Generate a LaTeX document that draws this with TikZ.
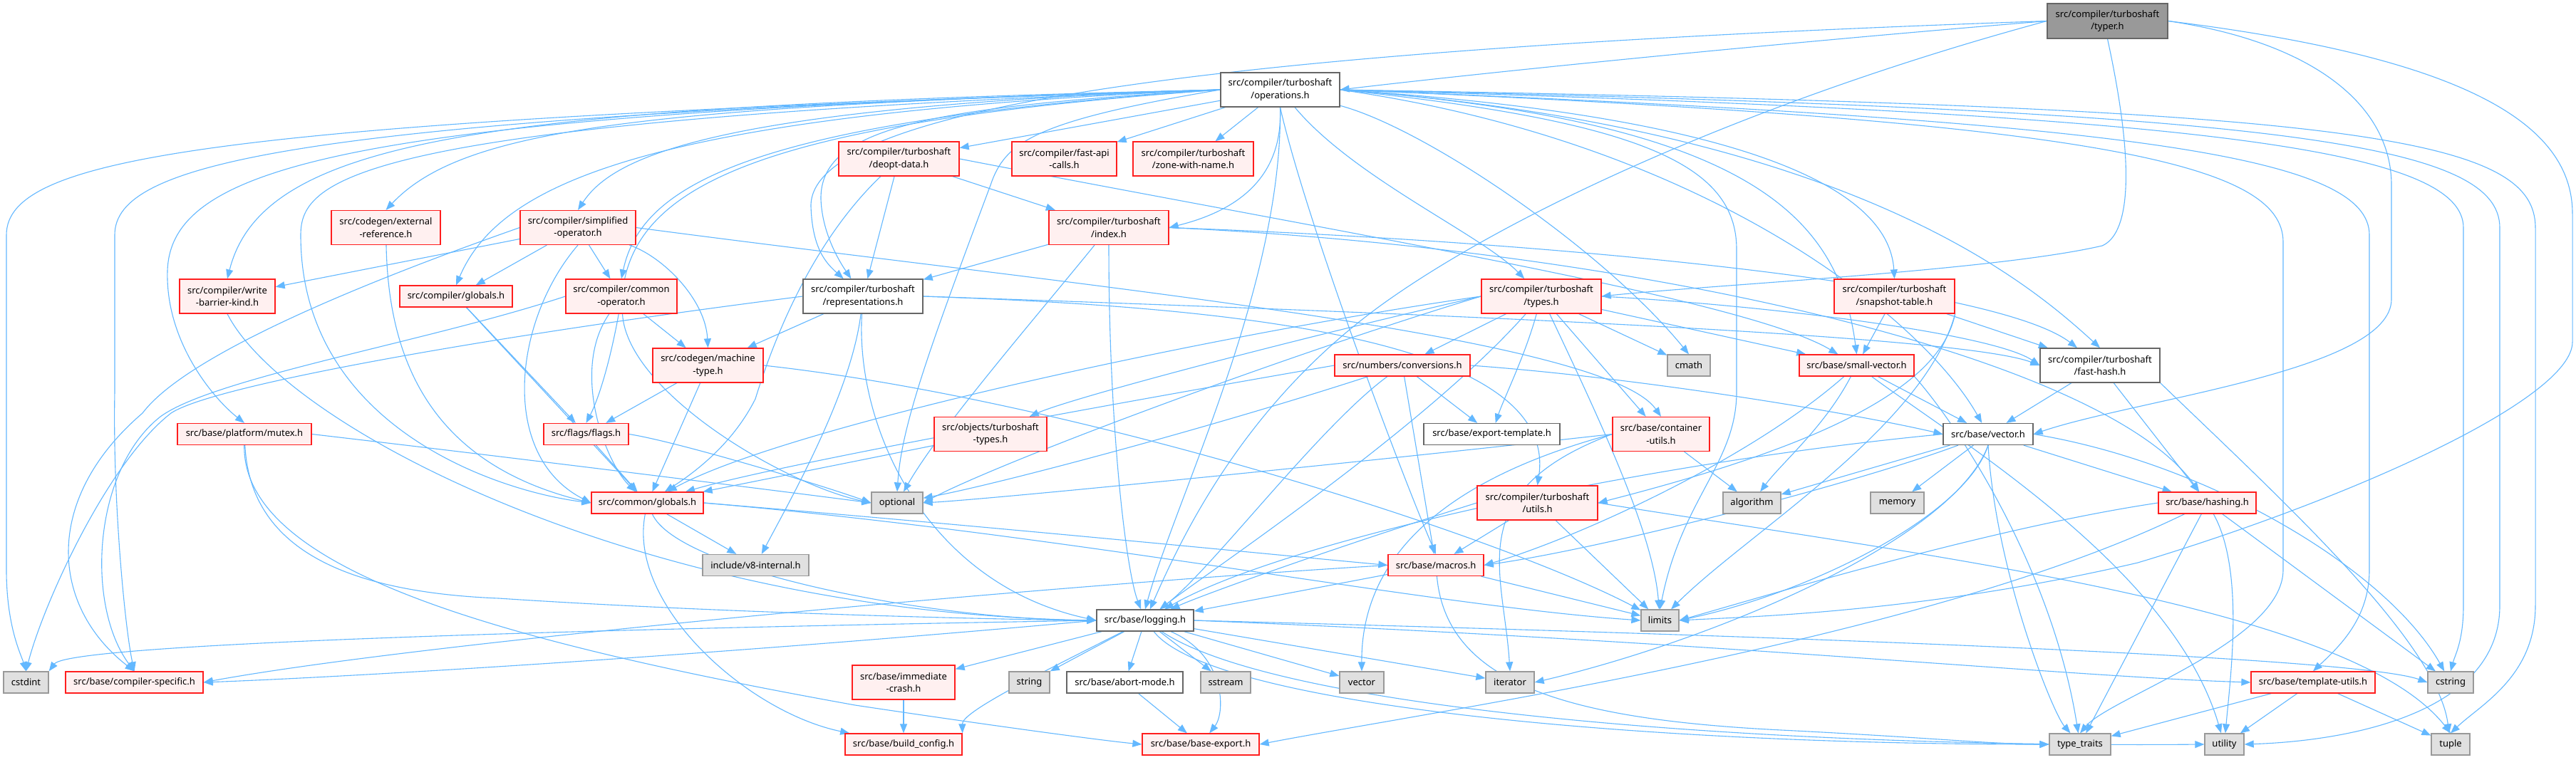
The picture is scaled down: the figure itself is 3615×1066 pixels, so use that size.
\documentclass[tikz,border=0pt]{standalone}
\usepackage{fontspec}
\setmainfont{Noto Sans}
\usetikzlibrary{arrows.meta,backgrounds}
\definecolor{edgec}{RGB}{99,184,255}
\definecolor{redfill}{RGB}{255,240,240}
\definecolor{redline}{RGB}{255,30,30}
\definecolor{grayfill}{RGB}{224,224,224}
\definecolor{grayline}{RGB}{153,153,153}
\definecolor{darkline}{RGB}{102,102,102}
\definecolor{rootfill}{RGB}{153,153,153}
\begin{document}
\begin{tikzpicture}[x=1pt,y=-1pt,
 box/.style={rectangle, inner sep=0pt, align=center, font=\fontsize{13}{17.5}\selectfont, text=black, line width=1.3pt},
 wbox/.style={box, draw=darkline, fill=white},
 rbox/.style={box, draw=redline, fill=redfill},
 gbox/.style={box, draw=grayline, fill=grayfill},
 rootbox/.style={box, draw=darkline, fill=rootfill},
 wh/.style 2 args={minimum width=#1pt, minimum height=#2pt},
 e/.style={draw=edgec, line width=1.1pt, -{Triangle[length=13pt,width=10pt]}},
]
\useasboundingbox (0,0) rectangle (3615,1066);
% nodes
\node[rootbox, wh={169}{49}] (typer) at (2957.5,29.5) {src/compiler/turboshaft\\/typer.h};
\node[wbox, wh={167}{48}] (ops) at (1796.5,126) {src/compiler/turboshaft\\/operations.h};
\node[rbox, wh={169}{48}] (deopt) at (1261.5,223) {src/compiler/turboshaft\\/deopt-data.h};
\node[rbox, wh={147}{48}] (fastapi) at (1493.5,223) {src/compiler/fast-api\\-calls.h};
\node[rbox, wh={169}{48}] (zone) at (1674.5,223) {src/compiler/turboshaft\\/zone-with-name.h};
\node[rbox, wh={168}{48}] (index) at (1556,319.5) {src/compiler/turboshaft\\/index.h};
\node[wbox, wh={168}{48}] (repr) at (1211,416) {src/compiler/turboshaft\\/representations.h};
\node[rbox, wh={153}{48}] (extref) at (541.5,319.5) {src/codegen/external\\-reference.h};
\node[rbox, wh={162}{48}] (simpl) at (811,319.5) {src/compiler/simplified\\-operator.h};
\node[rbox, wh={134}{48}] (wbk) at (319,416) {src/compiler/write\\-barrier-kind.h};
\node[rbox, wh={158}{30}] (cglob) at (640,416) {src/compiler/globals.h};
\node[rbox, wh={156}{48}] (commonop) at (872,416) {src/compiler/common\\-operator.h};
\node[rbox, wh={155}{48}] (machtype) at (993.5,513) {src/codegen/machine\\-type.h};
\node[rbox, wh={168}{48}] (types) at (2163,416) {src/compiler/turboshaft\\/types.h};
\node[rbox, wh={169}{48}] (snap) at (2658.5,416) {src/compiler/turboshaft\\/snapshot-table.h};
\node[rbox, wh={190}{30}] (conv) at (1968,513) {src/numbers/conversions.h};
\node[gbox, wh={60}{30}] (cmath) at (2370,513) {cmath};
\node[rbox, wh={161}{30}] (smallvec) at (2605.5,513) {src/base/small-vector.h};
\node[wbox, wh={168}{48}] (fasthash) at (2947,513) {src/compiler/turboshaft\\/fast-hash.h};
\node[rbox, wh={188}{30}] (mutex) at (343,609.5) {src/base/platform/mutex.h};
\node[rbox, wh={119}{30}] (flags) at (822.5,609.5) {src/flags/flags.h};
\node[rbox, wh={157}{30}] (glob) at (908.5,706) {src/common/globals.h};
\node[gbox, wh={63}{30}] (cstdint) at (36.5,958) {cstdint};
\node[rbox, wh={193}{30}] (compspec) at (188.5,958) {src/base/compiler-specific.h};
\node[rbox, wh={158}{48}] (objtypes) at (1390,609.5) {src/objects/turboshaft\\-types.h};
\node[gbox, wh={72}{30}] (optional) at (1259,706) {optional};
\node[gbox, wh={149}{30}] (v8int) at (1060.5,793.5) {include/v8-internal.h};
\node[wbox, wh={136}{30}] (logging) at (1607,871) {src/base/logging.h};
\node[rbox, wh={144}{48}] (immcrash) at (1268,958) {src/base/immediate\\-crash.h};
\node[gbox, wh={57}{30}] (string) at (1444.5,958) {string};
\node[wbox, wh={163}{30}] (abort) at (1578.5,958) {src/base/abort-mode.h};
\node[gbox, wh={70}{30}] (sstream) at (1720,958) {sstream};
\node[rbox, wh={164}{30}] (buildcfg) at (1268,1045) {src/base/build\_config.h};
\node[rbox, wh={164}{30}] (baseexp) at (1685,1045) {src/base/base-export.h};
\node[wbox, wh={191}{30}] (exporttpl) at (2093.5,609.5) {src/base/export-template.h};
\node[rbox, wh={136}{48}] (contutils) at (2331,609.5) {src/base/container\\-utils.h};
\node[rbox, wh={169}{48}] (tsutils) at (2157.5,706) {src/compiler/turboshaft\\/utils.h};
\node[gbox, wh={81}{30}] (algorithm) at (2458.5,706) {algorithm};
\node[gbox, wh={75}{30}] (memory) at (2662.5,706) {memory};
\node[rbox, wh={134}{30}] (macros) at (2015,793.5) {src/base/macros.h};
\node[gbox, wh={53}{30}] (limits) at (2329.5,871) {limits};
\node[gbox, wh={62}{30}] (vector) at (1911,958) {vector};
\node[gbox, wh={68}{30}] (iterator) at (2119,958) {iterator};
\node[wbox, wh={126}{30}] (vectorh) at (2790,609.5) {src/base/vector.h};
\node[rbox, wh={137}{30}] (hashing) at (3097.5,706) {src/base/hashing.h};
\node[rbox, wh={174}{30}] (tmplutils) at (3246,958) {src/base/template-utils.h};
\node[gbox, wh={64}{30}] (cstring) at (3439,958) {cstring};
\node[gbox, wh={86}{30}] (typetraits) at (2919,1045) {type\_traits};
\node[gbox, wh={55}{30}] (utility) at (3121.5,1045) {utility};
\node[gbox, wh={54}{30}] (tuple) at (3439,1045) {tuple};
\begin{scope}[on background layer]
\fill[white] (0,0) rectangle (3615,1066);
% typer
\draw[e] (typer.west) .. controls (2500,60) and (2100,100) .. (ops.east);
\draw[e] (typer.west) .. controls (1700,70) and (1135,150) .. (1138,290) .. controls (1140,350) and (1160,370) .. (repr);
\draw[e] (typer.south) .. controls (3000,250) and (2985,330) .. (2950,345) .. controls (2800,380) and (2400,400) .. (types.east);
\draw[e] (typer.west) .. controls (2500,130) and (2150,280) .. (1950,420) .. controls (1750,560) and (1660,750) .. (logging);
\draw[e] (typer.east) .. controls (3250,60) and (3356,150) .. (3356,260) -- (3356,420) .. controls (3356,520) and (3000,560) .. (vectorh.east);
\draw[e] (typer.east) .. controls (3450,80) and (3610,170) .. (3610,300) -- (3610,480) .. controls (3610,560) and (3300,700) .. (3000,790) .. controls (2700,860) and (2450,866) .. (limits.east);
% operations
\draw[e] (ops) -- (deopt);
\draw[e] (ops) -- (fastapi);
\draw[e] (ops) -- (zone);
\draw[e] (ops.south) .. controls (1800,230) and (1760,290) .. (index.east);
\draw[e] (ops.west) .. controls (1300,150) and (1150,180) .. (1152,280) .. controls (1154,330) and (1180,370) .. (repr);
\draw[e] (ops.west) .. controls (900,150) and (650,180) .. (extref.north);
\draw[e] (ops.west) .. controls (1000,150) and (860,220) .. (simpl.north);
\draw[e] (ops.west) .. controls (700,150) and (370,190) .. (wbk.north);
\draw[e] (ops.west) .. controls (900,160) and (700,260) .. (cglob.north);
\draw[e] (ops.west) .. controls (1050,170) and (900,260) .. (commonop.north);
\draw[e] (ops) .. controls (1900,250) and (2080,330) .. (types);
\draw[e] (ops.east) .. controls (2400,160) and (2650,250) .. (snap.north);
\draw[e] (ops) .. controls (2000,180) and (2250,350) .. (cmath.north);
\draw[e] (ops.east) .. controls (2450,170) and (2580,300) .. (smallvec.north);
\draw[e] (ops.east) .. controls (2600,180) and (2850,400) .. (fasthash.north);
\draw[e] (ops.west) .. controls (500,160) and (240,230) .. (235,380) .. controls (232,480) and (300,560) .. (mutex.north);
\draw[e] (ops.west) .. controls (1100,170) and (900,250) .. (875,400) .. controls (860,500) and (840,560) .. (flags.north);
\draw[e] (ops.west) .. controls (500,170) and (422,250) .. (422,330) .. controls (422,600) and (700,690) .. (glob.west);
\draw[e] (ops.west) .. controls (300,170) and (9,220) .. (9,330) -- (9,800) .. controls (9,880) and (30,920) .. (cstdint.north);
\draw[e] (ops.west) .. controls (400,165) and (161,230) .. (161,330) -- (161,550) .. controls (158,700) and (175,880) .. (compspec.north);
\draw[e] (ops.west) .. controls (1450,170) and (1410,200) .. (1390,260) .. controls (1300,500) and (1265,600) .. (optional.north);
\draw[e] (ops.south) .. controls (1800,400) and (1650,700) .. (logging.north);
\draw[e] (ops.south) .. controls (1830,300) and (1960,650) .. (macros.north);
\draw[e] (ops.east) .. controls (2300,170) and (2437,230) .. (2437,350) -- (2437,550) .. controls (2437,650) and (2360,700) .. (limits.north);
\draw[e] (ops.east) .. controls (2400,200) and (2700,450) .. (vectorh);
\draw[e] (ops.east) .. controls (2950,170) and (3204,230) .. (3204,340) -- (3204,800) .. controls (3204,900) and (2960,980) .. (typetraits.north);
\draw[e] (ops.east) .. controls (3000,170) and (3325,220) .. (3325,330) -- (3325,800) .. controls (3325,870) and (3280,910) .. (tmplutils.north);
\draw[e] (ops.east) .. controls (3100,160) and (3457,210) .. (3457,320) -- (3457,850) .. controls (3457,900) and (3445,920) .. (cstring.north);
\draw[e] (ops.east) .. controls (3200,155) and (3508,200) .. (3508,320) -- (3508,850) .. controls (3508,1000) and (3300,1040) .. (utility.east);
\draw[e] (ops.east) .. controls (3300,150) and (3558,190) .. (3558,320) -- (3558,850) .. controls (3558,950) and (3480,990) .. (tuple.north);
% deopt
\draw[e] (deopt) -- (index);
\draw[e] (deopt) -- (repr);
\draw[e] (deopt) .. controls (1150,330) and (1094,450) .. (1060,560) .. controls (1030,620) and (980,660) .. (glob);
\draw[e] (deopt.east) .. controls (1900,330) and (2450,420) .. (smallvec);
% index
\draw[e] (index) -- (repr);
\draw[e] (index) .. controls (1556,600) and (1580,800) .. (logging);
\draw[e] (index) .. controls (1450,450) and (1320,600) .. (optional);
\draw[e] (index.east) .. controls (2200,340) and (2800,400) .. (fasthash);
\draw[e] (index.east) .. controls (2300,350) and (2950,500) .. (hashing);
% representations
\draw[e] (repr) -- (machtype);
\draw[e] (repr.west) .. controls (700,470) and (300,540) .. (240,580) .. controls (150,650) and (60,850) .. (cstdint.north);
\draw[e] (repr) .. controls (1195,550) and (1110,700) .. (v8int);
\draw[e] (repr) .. controls (1200,600) and (1300,820) .. (logging.west);
\draw[e] (repr.east) .. controls (1700,430) and (2190,470) .. (tsutils.north);
\draw[e] (repr.east) .. controls (2000,440) and (2750,470) .. (fasthash.west);
% extref, simplified
\draw[e] (extref) .. controls (545,500) and (600,650) .. (glob.west);
\draw[e] (simpl) -- (wbk);
\draw[e] (simpl) -- (cglob);
\draw[e] (simpl) -- (commonop);
\draw[e] (simpl) .. controls (930,360) and (990,420) .. (machtype.north);
\draw[e] (simpl.south) .. controls (720,450) and (700,640) .. (glob.west);
\draw[e] (simpl.west) .. controls (500,400) and (260,500) .. (200,580) .. controls (60,700) and (70,850) .. (compspec.north);
\draw[e] (simpl.east) .. controls (1500,400) and (2250,470) .. (contutils.north);
% wbk, cglob, commonop
\draw[e] (wbk.south) .. controls (400,600) and (900,860) .. (logging.west);
\draw[e] (cglob) -- (glob);
\draw[e] (cglob) -- (flags);
\draw[e] (commonop.west) .. controls (600,480) and (300,530) .. (225,585) .. controls (130,660) and (120,850) .. (compspec.north);
\draw[e] (commonop) .. controls (800,520) and (850,650) .. (glob);
\draw[e] (commonop) -- (machtype);
\draw[e] (commonop) .. controls (880,550) and (1100,680) .. (optional.west);
% machtype
\draw[e] (machtype) -- (glob);
\draw[e] (machtype) -- (flags);
\draw[e] (machtype.east) .. controls (1500,560) and (2100,750) .. (limits);
% types
\draw[e] (types) -- (conv);
\draw[e] (types) -- (cmath);
\draw[e] (types) -- (smallvec);
\draw[e] (types) .. controls (2140,500) and (2110,560) .. (exporttpl);
\draw[e] (types) -- (contutils);
\draw[e] (types) .. controls (2000,600) and (1700,800) .. (logging);
\draw[e] (types.west) .. controls (1700,470) and (1100,600) .. (glob);
\draw[e] (types.west) .. controls (1800,480) and (1500,560) .. (objtypes);
\draw[e] (types.west) .. controls (1800,500) and (1400,650) .. (optional.east);
\draw[e] (types) .. controls (2250,600) and (2320,750) .. (limits);
\draw[e] (types.east) .. controls (2500,430) and (2800,470) .. (fasthash.west);
% snapshot
\draw[e] (snap) -- (smallvec);
\draw[e] (snap) -- (fasthash);
\draw[e] (snap.south east) .. controls (2700,600) and (2450,750) .. (limits);
\draw[e] (snap.south east) .. controls (2720,560) and (2500,640) .. (tsutils.east);
% conversions
\draw[e] (conv) -- (exporttpl);
\draw[e] (conv.east) .. controls (2300,530) and (2600,580) .. (vectorh.west);
\draw[e] (conv) .. controls (1850,600) and (1700,800) .. (logging);
\draw[e] (conv) -- (macros);
\draw[e] (conv.west) .. controls (1600,560) and (1100,650) .. (glob);
\draw[e] (conv) .. controls (1700,600) and (1400,680) .. (optional);
% small-vector
\draw[e] (smallvec) .. controls (2560,600) and (2500,650) .. (algorithm);
\draw[e] (smallvec.south east) .. controls (2750,600) and (2880,800) .. (typetraits);
\draw[e] (smallvec) .. controls (2750,620) and (3050,800) .. (utility);
\draw[e] (smallvec) .. controls (2450,650) and (2200,760) .. (macros.east);
\draw[e] (smallvec) -- (vectorh);
% objtypes, container utils
\draw[e] (objtypes) -- (glob);
\draw[e] (contutils) -- (algorithm);
\draw[e] (contutils.west) .. controls (1900,650) and (1400,700) .. (optional.east);
\draw[e] (contutils.west) .. controls (2050,690) and (2110,800) .. (iterator.north);
\draw[e] (contutils.west) .. controls (2000,680) and (1910,800) .. (vector.north);
% turboshaft utils
\draw[e] (tsutils) -- (macros);
\draw[e] (tsutils) -- (limits);
\draw[e] (tsutils.west) .. controls (1900,760) and (1700,830) .. (logging);
\draw[e] (tsutils.east) .. controls (2700,780) and (3300,850) .. (tuple.north);
% fast-hash
\draw[e] (fasthash) -- (vectorh);
\draw[e] (fasthash) -- (hashing);
\draw[e] (fasthash.south east) .. controls (3200,700) and (3420,900) .. (tuple);
% vector.h
\draw[e] (vectorh) -- (algorithm);
\draw[e] (vectorh) -- (memory);
\draw[e] (vectorh.south) .. controls (2740,760) and (2400,900) .. (iterator.east);
\draw[e] (vectorh.south) .. controls (2760,720) and (2550,830) .. (limits.east);
\draw[e] (vectorh) .. controls (2600,680) and (2250,770) .. (macros.east);
\draw[e] (vectorh.west) .. controls (2300,650) and (1800,760) .. (logging);
\draw[e] (vectorh) -- (hashing);
\draw[e] (vectorh.south) .. controls (2800,800) and (2880,1000) .. (typetraits);
\draw[e] (vectorh.east) .. controls (3100,650) and (3350,800) .. (cstring);
% hashing
\draw[e] (hashing.west) .. controls (2800,740) and (2500,830) .. (limits.east);
\draw[e] (hashing) .. controls (2700,900) and (2000,1000) .. (baseexp.east);
\draw[e] (hashing) -- (typetraits);
\draw[e] (hashing) .. controls (3150,800) and (3130,950) .. (utility);
\draw[e] (hashing) -- (cstring);
% template utils
\draw[e] (tmplutils) -- (typetraits);
\draw[e] (tmplutils) -- (utility);
\draw[e] (tmplutils) -- (tuple);
% macros
\draw[e] (macros.west) .. controls (1500,820) and (600,900) .. (compspec.east);
\draw[e] (macros) -- (logging);
\draw[e] (macros) .. controls (2030,960) and (2200,1010) .. (2500,1025) .. controls (2700,1035) and (2800,1045) .. (typetraits.west);
\draw[e] (macros) -- (limits);
% common globals
\draw[e] (glob) -- (v8int);
\draw[e] (glob) .. controls (950,800) and (1300,870) .. (logging.west);
\draw[e] (glob) .. controls (880,850) and (1050,1000) .. (buildcfg);
\draw[e] (glob.east) .. controls (1400,740) and (1800,780) .. (macros.west);
\draw[e] (glob.east) .. controls (1500,750) and (2000,850) .. (limits.west);
% flags, mutex
\draw[e] (flags) -- (glob);
\draw[e] (flags.east) .. controls (950,620) and (1150,680) .. (optional.west);
\draw[e] (mutex.east) .. controls (700,640) and (1100,690) .. (optional.west);
\draw[e] (mutex) .. controls (350,750) and (450,830) .. (700,840) .. controls (1000,860) and (1400,870) .. (logging.west);
\draw[e] (mutex) .. controls (340,800) and (700,900) .. (1200,990) .. controls (1400,1020) and (1550,1040) .. (baseexp.west);
% logging
\draw[e] (logging.west) .. controls (1000,880) and (100,900) .. (cstdint.north east);
\draw[e] (logging.west) .. controls (1000,920) and (500,950) .. (compspec.east);
\draw[e] (logging) -- (immcrash);
\draw[e] (logging) .. controls (1450,950) and (1350,1000) .. (buildcfg.north east);
\draw[e] (logging) -- (string);
\draw[e] (logging) -- (abort);
\draw[e] (logging) -- (sstream);
\draw[e] (logging) .. controls (1720,920) and (1720,1000) .. (baseexp);
\draw[e] (logging) -- (vector);
\draw[e] (logging) -- (iterator);
\draw[e] (logging.east) .. controls (2400,890) and (3300,920) .. (cstring.west);
\draw[e] (logging.east) .. controls (2400,900) and (2900,950) .. (tmplutils.west);
\draw[e] (logging) .. controls (1700,990) and (2300,1045) .. (typetraits.west);
\draw[e] (logging) .. controls (1800,1000) and (2500,1050) .. (utility.west);
% leaves with children
\draw[e] (immcrash) -- (buildcfg);
\draw[e] (abort) -- (baseexp);
\end{scope}
\end{tikzpicture}
\end{document}
